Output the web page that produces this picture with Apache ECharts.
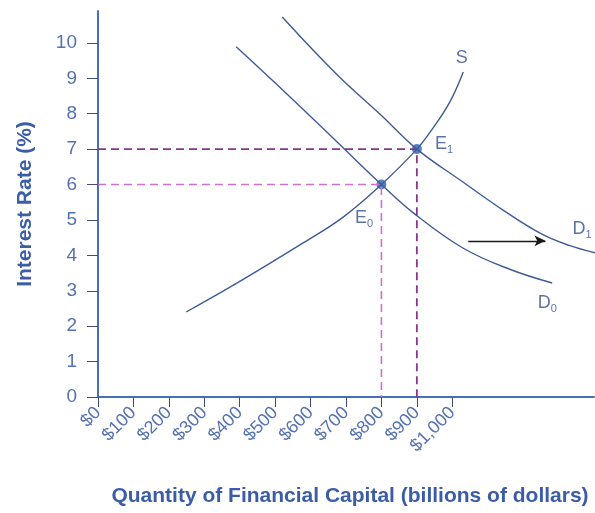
<!DOCTYPE html>
<html>
<head>
<meta charset="utf-8">
<script src="https://cdn.jsdelivr.net/npm/echarts@6/dist/echarts.min.js"></script>
<style>
html,body{margin:0;padding:0;background:#fff;}
#c{width:595px;height:513px;}
</style>
</head>
<body>
<div id="c"></div>
<script>
// Data
const xTicks = [0,100,200,300,400,500,600,700,800,900,1000];
const yTicks = [0,1,2,3,4,5,6,7,8,9,10];
const supplyS = [[249,2.40],[393,3.22],[579,4.35],[692,5.08],[800,6],[900,7],[946,7.6],[994,8.35],[1031,9.18]];
const demandD0 = [[390,9.89],[534,8.55],[675,7.2],[800,6],[890,5.2],[1031,4.2],[1164,3.6],[1282,3.22]];
const demandD1 = [[520,10.73],[675,9.1],[800,7.95],[900,7],[1023,6.12],[1140,5.3],[1249,4.62],[1330,4.28],[1404,4.07]];
const equilibria = [[800,6],[900,7]];
const guideE0 = [[0,6],[800,6],[800,0]];
const guideE1 = [[0,7],[900,7],[900,0]];
const shiftArrow = [[1045,4.41],[1263,4.41]];
const curveLabels = [
  {name:'S', value:[1027,9.56], base:'S', sub:''},
  {name:'E1', value:[977,7.15], base:'E', sub:'1'},
  {name:'E0', value:[751,5.05], base:'E', sub:'0'},
  {name:'D1', value:[1366,4.75], base:'D', sub:'1'},
  {name:'D0', value:[1268,2.66], base:'D', sub:'0'}
];

const axisColor = '#4a6fb5';
const labelColor = '#5572b3';
const titleColor = '#3b5ca6';
const curveColor = '#3f5b97';
const FF = 'Liberation Sans, Arial, sans-serif';

const chart = echarts.init(document.getElementById('c'), null, {renderer:'canvas'});
chart.setOption({
  animation:false,
  backgroundColor:'#ffffff',
  grid:{left:98, right:1, top:11, bottom:116, containLabel:false, outerBoundsMode:'none'},
  xAxis:{
    type:'value', min:0, max:1400,
    axisLine:{lineStyle:{color:axisColor, width:2}},
    axisTick:{show:true, length:10, customValues:xTicks, lineStyle:{color:'#3d4f7a', width:1}},
    splitLine:{show:false},
    axisLabel:{customValues:xTicks, rotate:45, margin:13, color:labelColor, fontSize:18, fontFamily:FF,
      formatter:v => '$' + (v >= 1000 ? (Math.floor(v/1000) + ',' + String(v%1000).padStart(3,'0')) : v)},
    name:'Quantity of Financial Capital (billions of dollars)',
    nameLocation:'middle', nameGap:89,
    nameTextStyle:{color:titleColor, fontSize:21, fontWeight:'bold', fontFamily:FF, padding:[0,0,0,8]}
  },
  yAxis:{
    type:'value', min:0, max:10.9,
    axisLine:{lineStyle:{color:axisColor, width:2}},
    axisTick:{show:true, length:11, customValues:yTicks, lineStyle:{color:'#3d4f7a', width:1}},
    splitLine:{show:false},
    axisLabel:{customValues:yTicks, margin:21, color:labelColor, fontSize:19, fontFamily:FF},
    name:'Interest Rate (%)',
    nameLocation:'middle', nameGap:62,
    nameTextStyle:{color:titleColor, fontSize:21, fontWeight:'bold', fontFamily:FF}
  },
  series:[
    {type:'line', data:guideE0, showSymbol:false, silent:true,
      lineStyle:{color:'#cf6fcf', width:1.6, type:[8,5]}},
    {type:'line', data:guideE1, showSymbol:false, silent:true,
      lineStyle:{color:'#8a3590', width:1.8, type:[8,5]}},
    {type:'line', data:supplyS, smooth:0.4, showSymbol:false, silent:true,
      lineStyle:{color:curveColor, width:1.4}},
    {type:'line', data:demandD0, smooth:0.4, showSymbol:false, silent:true,
      lineStyle:{color:curveColor, width:1.4}},
    {type:'line', data:demandD1, smooth:0.4, showSymbol:false, silent:true,
      lineStyle:{color:curveColor, width:1.4}},
    {type:'line', data:[], silent:true,
      markLine:{silent:true, symbol:['none','arrow'], symbolSize:[8,11], label:{show:false},
        lineStyle:{color:'#1a1a1a', width:1.3, type:'solid'},
        data:[[{coord:shiftArrow[0]},{coord:shiftArrow[1]}]]}},
    {type:'scatter', data:equilibria, symbolSize:10, silent:true,
      itemStyle:{color:'#2d5fb8'}},
    {type:'scatter', data:curveLabels.map(l=>({name:l.name, value:l.value,
        label:{formatter: l.sub ? '{b|'+l.base+'}{s|'+l.sub+'}' : '{b|'+l.base+'}'}})),
      symbolSize:0, silent:true,
      label:{show:true, position:'inside',
        rich:{
          b:{fontSize:18, color:'#34508f', fontFamily:FF},
          s:{fontSize:11, color:'#34508f', fontFamily:FF, padding:[12,0,0,0]}
        }}}
  ]
});
</script>
</body>
</html>
